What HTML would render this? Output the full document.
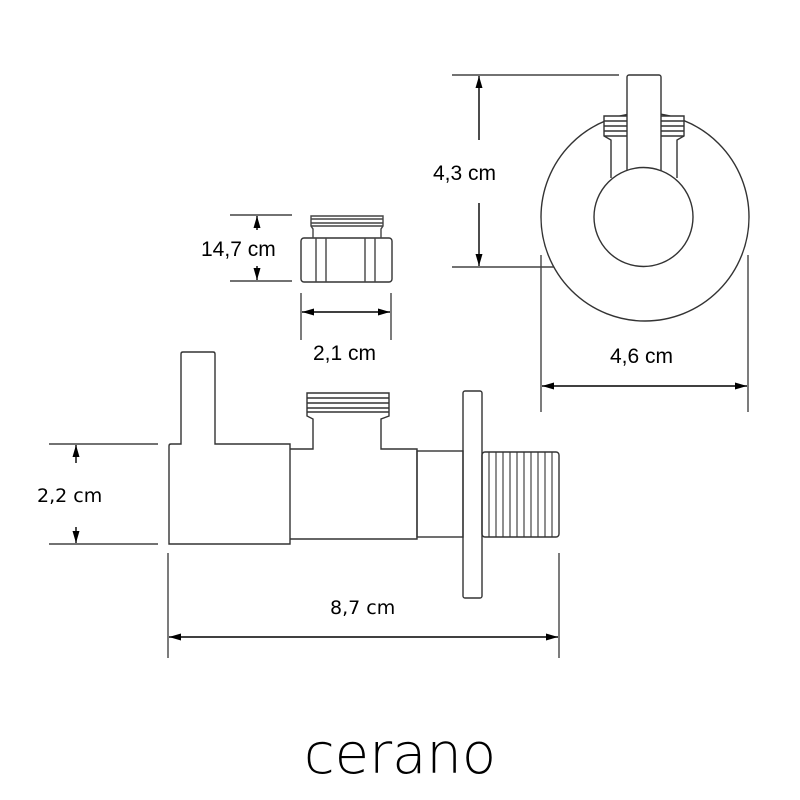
<!DOCTYPE html>
<html><head><meta charset="utf-8"><style>
html,body{margin:0;padding:0;background:#fff;}
svg{display:block;}
text{font-family:"Liberation Sans",Arial,sans-serif;font-size:21px;fill:#000;}
.d{font-family:"DejaVu Sans","Liberation Sans",sans-serif;font-size:19px;}
</style></head><body>
<svg width="800" height="800" viewBox="0 0 800 800" xmlns="http://www.w3.org/2000/svg">
<defs>
<marker id="a" viewBox="0 0 12 8" refX="12" refY="4" markerWidth="12" markerHeight="8" markerUnits="userSpaceOnUse" orient="auto-start-reverse"><path d="M0,0.5 L12,4 L0,7.5 z" fill="#000"/></marker>
</defs>
<g fill="none" stroke="#444" stroke-width="1.4">
<!-- 14,7 dim -->
<line x1="230" y1="215" x2="292" y2="215"/>
<line x1="230" y1="281" x2="292" y2="281"/>
<line x1="257" y1="230" x2="257" y2="216" marker-end="url(#a)" stroke="#000"/>
<line x1="257" y1="266" x2="257" y2="280" marker-end="url(#a)" stroke="#000"/>
<!-- 2,1 dim -->
<line x1="301" y1="293" x2="301" y2="340"/>
<line x1="391" y1="293" x2="391" y2="340"/>
<line x1="302" y1="312" x2="390" y2="312" marker-start="url(#a)" marker-end="url(#a)" stroke="#000"/>
<!-- nut -->
<rect x="301" y="238" width="91" height="44" rx="3" stroke="#333"/>
<line x1="316" y1="238" x2="316" y2="282"/><line x1="326" y1="238" x2="326" y2="282"/>
<line x1="365" y1="238" x2="365" y2="282"/><line x1="375" y1="238" x2="375" y2="282"/>
<path d="M313,238 L313,229 L311,226 L311,216 L383,216 L383,226 L381,229 L381,238"/>
<line x1="311" y1="219" x2="383" y2="219"/><line x1="311" y1="223" x2="383" y2="223"/><line x1="311" y1="226" x2="383" y2="226"/>
<!-- 4,3 dim -->
<line x1="452" y1="75" x2="619" y2="75"/>
<line x1="452" y1="267" x2="617" y2="267"/>
<line x1="479" y1="140" x2="479" y2="76" marker-end="url(#a)" stroke="#000"/>
<line x1="479" y1="203" x2="479" y2="266" marker-end="url(#a)" stroke="#000"/>
<!-- 4,6 dim -->
<line x1="541" y1="255" x2="541" y2="412"/>
<line x1="748" y1="255" x2="748" y2="412"/>
<line x1="542" y1="386" x2="747" y2="386" marker-start="url(#a)" marker-end="url(#a)" stroke="#000"/>
<!-- front view -->
<g stroke="#333">
<circle cx="645" cy="217" r="104" fill="#fff"/>
<path d="M611,178 L611,140 L604,136 L604,116 L684,116 L684,136 L677,140 L677,178" fill="#fff"/>
<line x1="604" y1="121" x2="684" y2="121"/><line x1="604" y1="126" x2="684" y2="126"/><line x1="604" y1="131" x2="684" y2="131"/><line x1="604" y1="136" x2="684" y2="136"/>
<rect x="627" y="75" width="34" height="100" rx="2" fill="#fff"/>
<circle cx="643.5" cy="217" r="49.5" fill="#fff"/>
</g>
<!-- 2,2 dim -->
<line x1="49" y1="444" x2="158" y2="444"/>
<line x1="49" y1="544" x2="158" y2="544"/>
<line x1="76" y1="463" x2="76" y2="445" marker-end="url(#a)" stroke="#000"/>
<line x1="76" y1="527" x2="76" y2="543" marker-end="url(#a)" stroke="#000"/>
<!-- 8,7 dim -->
<line x1="168" y1="553" x2="168" y2="658"/>
<line x1="559" y1="553" x2="559" y2="658"/>
<line x1="169" y1="637" x2="558" y2="637" marker-start="url(#a)" marker-end="url(#a)" stroke="#000"/>
<!-- side view -->
<g stroke="#333">
<path d="M169,544 L169,446 Q169,444 171,444 L181,444 L181,354 Q181,352 183,352 L213,352 Q215,352 215,354 L215,444 L290,444 L290,544 Z"/>
<path d="M290,449 L313,449 L313,419 L307,416 L307,393 L389,393 L389,416 L381,419 L381,449 L417,449 L417,539 L290,539"/>
<line x1="307" y1="398" x2="389" y2="398"/><line x1="307" y1="403" x2="389" y2="403"/><line x1="307" y1="408" x2="389" y2="408"/><line x1="307" y1="412" x2="389" y2="412"/>
<rect x="417" y="451" width="46" height="86"/>
<rect x="463" y="391" width="19" height="207" rx="2"/>
<rect x="482" y="452" width="77" height="85" rx="3"/>
<g stroke-width="1.1">
<line x1="489" y1="452" x2="489" y2="537"/><line x1="496" y1="452" x2="496" y2="537"/><line x1="503" y1="452" x2="503" y2="537"/><line x1="510" y1="452" x2="510" y2="537"/><line x1="517" y1="452" x2="517" y2="537"/><line x1="524" y1="452" x2="524" y2="537"/><line x1="531" y1="452" x2="531" y2="537"/><line x1="538" y1="452" x2="538" y2="537"/><line x1="545" y1="452" x2="545" y2="537"/><line x1="552" y1="452" x2="552" y2="537"/>
</g>
</g>
</g>
<text x="201" y="256">14,7 cm</text>
<text x="313" y="360">2,1 cm</text>
<text x="433" y="180">4,3 cm</text>
<text x="610" y="363">4,6 cm</text>
<text class="d" x="37" y="502">2,2 cm</text>
<text class="d" x="330" y="614">8,7 cm</text>
<text x="400" y="773" text-anchor="middle" style="font-family:'DejaVu Sans','Liberation Sans',sans-serif;font-weight:200;font-size:56px;letter-spacing:0px;fill:#000">cerano</text>
</svg>
</body></html>
